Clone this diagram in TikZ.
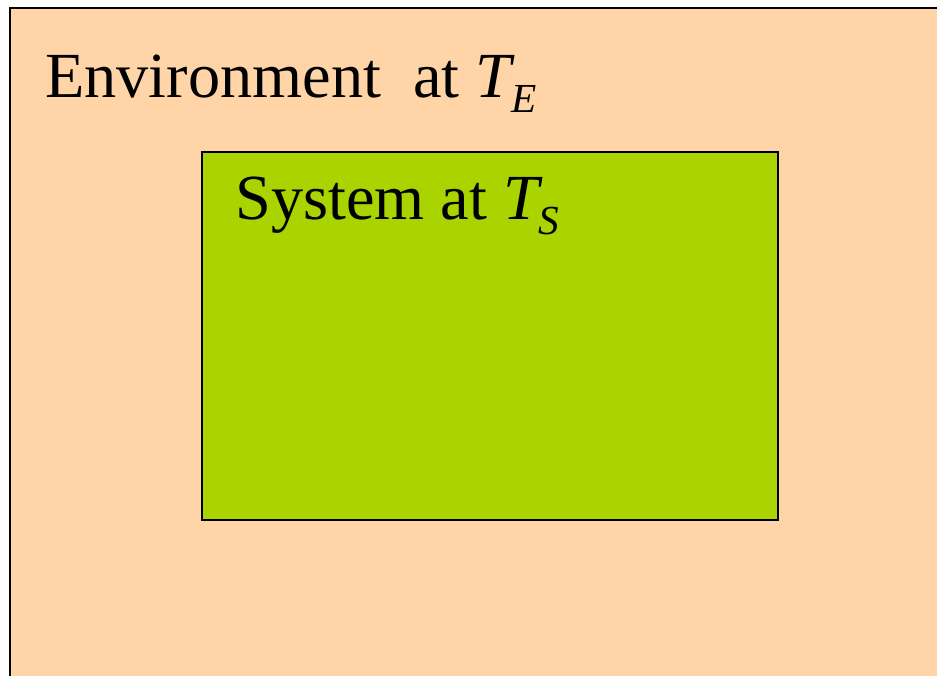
\documentclass[tikz,border=0pt]{standalone}
\usepackage{fontspec}
\setmainfont{Liberation Serif}
\newcommand{\tempsub}[2]{\textit{#1}\kern-0.06em\raisebox{-0.24em}{\fontsize{23.5}{23.5}\selectfont\textit{#2}}}
\definecolor{envfill}{HTML}{FFD5A8}
\definecolor{sysfill}{HTML}{AAD400}
\begin{document}
\begin{tikzpicture}[
    x=0.02cm, y=-0.02cm,
    every node/.style={font=\fontsize{36.6}{40}\selectfont},
    label/.style={anchor=base west, inner sep=0pt},
    box/.style={draw=black, line width=1pt}
]

    \useasboundingbox (0,0) rectangle (937,676);
    \clip (0,0) rectangle (937,676);

    % Environment
    \draw[box, fill=envfill] (10,8) rectangle (960,700);
    \node[label] (envlabel) at (45,97) {Environment~~at \tempsub{T}{E}};

    % System
    \draw[box, fill=sysfill] (202,152) rectangle (778,520);
    \node[label] (syslabel) at (235,219) {System at \tempsub{T}{S}};

\end{tikzpicture}
\end{document}
